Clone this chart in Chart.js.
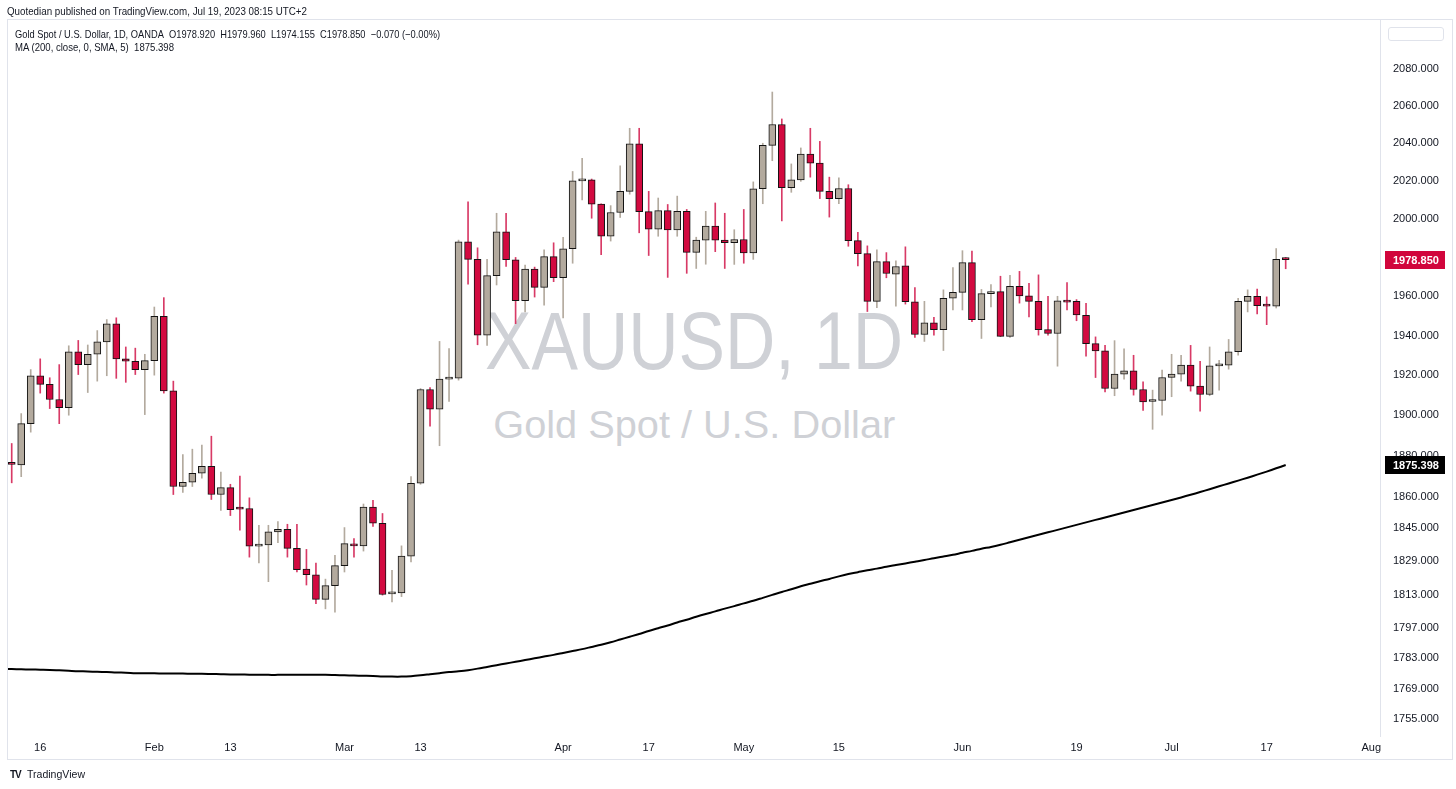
<!DOCTYPE html>
<html><head><meta charset="utf-8">
<script src="https://cdn.jsdelivr.net/npm/chart.js@4.4.1/dist/chart.umd.min.js"></script>
<style>
html,body{margin:0;padding:0;background:#fff;}
#wrap{position:relative;width:1456px;height:789px;overflow:hidden;font-family:"Liberation Sans",Arial,sans-serif;color:#131722;}
canvas{position:absolute;left:0;top:0;}
.t{position:absolute;white-space:nowrap;line-height:13px;transform-origin:0 50%;}
.wm{position:absolute;left:8px;width:1372px;text-align:center;line-height:1;color:#cfd1d6;white-space:nowrap;}
.wm span{display:inline-block;transform-origin:50% 50%;}
.ln{position:absolute;background:#e0e3eb;}
</style></head>
<body><div id="wrap">
<div class="wm" style="top:300px;font-size:82px;"><span id="wm1">XAUUSD, 1D</span></div>
<div class="wm" style="top:405px;font-size:39px;"><span id="wm2">Gold Spot / U.S. Dollar</span></div>
<div class="ln" style="left:7px;top:19px;width:1446px;height:1px;"></div>
<div class="ln" style="left:7px;top:19px;width:1px;height:741px;"></div>
<div class="ln" style="left:7px;top:759px;width:1446px;height:1px;"></div>
<div class="ln" style="left:1452px;top:19px;width:1px;height:741px;"></div>
<div class="ln" style="left:1380px;top:19px;width:1px;height:718px;"></div>
<canvas id="c" width="1456" height="789"></canvas>
<div class="t" id="pub" style="left:7px;top:5px;font-size:11px;">Quotedian published on TradingView.com, Jul 19, 2023 08:15 UTC+2</div>
<div class="t" id="lg1" style="left:15px;top:28px;font-size:11px;">Gold Spot / U.S. Dollar, 1D, OANDA&nbsp;&nbsp;O1978.920&nbsp;&nbsp;H1979.960&nbsp;&nbsp;L1974.155&nbsp;&nbsp;C1978.850&nbsp;&nbsp;−0.070 (−0.00%)</div>
<div class="t" id="lg2" style="left:15px;top:41px;font-size:11px;">MA (200, close, 0, SMA, 5)&nbsp;&nbsp;1875.398</div>
<div style="position:absolute;left:1388px;top:27px;width:56px;height:14px;border:1px solid #e0e3eb;border-radius:3px;box-sizing:border-box;"></div>
<div class="t" style="left:10px;top:768px;font-size:10px;font-weight:bold;letter-spacing:-1px;">TV</div>
<div class="t" id="tvt" style="left:27px;top:768px;font-size:10px;">TradingView</div>
</div>
<script>
// ---- data ----
const dates = [
'2023-01-10','2023-01-11','2023-01-12','2023-01-13','2023-01-16','2023-01-17','2023-01-18','2023-01-19','2023-01-20','2023-01-23','2023-01-24','2023-01-25','2023-01-26','2023-01-27','2023-01-30','2023-01-31',
'2023-02-01','2023-02-02','2023-02-03','2023-02-06','2023-02-07','2023-02-08','2023-02-09','2023-02-10','2023-02-13','2023-02-14','2023-02-15','2023-02-16','2023-02-17','2023-02-20','2023-02-21','2023-02-22','2023-02-23','2023-02-24','2023-02-27','2023-02-28',
'2023-03-01','2023-03-02','2023-03-03','2023-03-06','2023-03-07','2023-03-08','2023-03-09','2023-03-10','2023-03-13','2023-03-14','2023-03-15','2023-03-16','2023-03-17','2023-03-20','2023-03-21','2023-03-22','2023-03-23','2023-03-24','2023-03-27','2023-03-28','2023-03-29','2023-03-30','2023-03-31',
'2023-04-03','2023-04-04','2023-04-05','2023-04-06','2023-04-10','2023-04-11','2023-04-12','2023-04-13','2023-04-14','2023-04-17','2023-04-18','2023-04-19','2023-04-20','2023-04-21','2023-04-24','2023-04-25','2023-04-26','2023-04-27','2023-04-28',
'2023-05-01','2023-05-02','2023-05-03','2023-05-04','2023-05-05','2023-05-08','2023-05-09','2023-05-10','2023-05-11','2023-05-12','2023-05-15','2023-05-16','2023-05-17','2023-05-18','2023-05-19','2023-05-22','2023-05-23','2023-05-24','2023-05-25','2023-05-26','2023-05-29','2023-05-30','2023-05-31',
'2023-06-01','2023-06-02','2023-06-05','2023-06-06','2023-06-07','2023-06-08','2023-06-09','2023-06-12','2023-06-13','2023-06-14','2023-06-15','2023-06-16','2023-06-19','2023-06-20','2023-06-21','2023-06-22','2023-06-23','2023-06-26','2023-06-27','2023-06-28','2023-06-29','2023-06-30',
'2023-07-03','2023-07-04','2023-07-05','2023-07-06','2023-07-07','2023-07-10','2023-07-11','2023-07-12','2023-07-13','2023-07-14','2023-07-17','2023-07-18','2023-07-19'
];
const futureDates = ['2023-07-20','2023-07-21','2023-07-24','2023-07-25','2023-07-26','2023-07-27','2023-07-28','2023-07-31','2023-08-01','2023-08-02'];

const opens = [
1872,1876.2,1875.5,1895.8,1919.7,1915.4,1907.8,1903.8,1931.7,1925.3,1930.5,1936.8,1945.9,1928.2,1927,1922.8,
1927.3,1949.8,1912.1,1864.9,1867,1871.4,1874.8,1861,1864.4,1854.8,1854.2,1836.1,1836.6,1842.9,1844.2,1835,1825.1,1822.4,1810.7,1817.2,
1826.7,1837,1836.2,1854.9,1847.1,1813.3,1813.8,1831.3,1866.5,1912.8,1903,1918,1918.5,1988.1,1979,1940.2,1970.6,1993.3,1978.8,1957.7,1974,1964.6,1980.4,
1969.5,1984.5,2020,2020.6,2007.8,1991,2003.4,2014.5,2039.7,2003.9,1994.7,2004.4,1994.3,2004,1982.6,1989,1996.3,1989,1987.7,
1989.3,1982.3,2015.9,2038.9,2050,2016.5,2020.6,2034.2,2029.4,2014.5,2010.7,2016,1988.7,1982,1957.4,1977.8,1971.3,1975.6,1957.2,1940.5,1946.4,1943,1959,
1962,1977.3,1948,1961.4,1962.4,1939.6,1965.1,1960.2,1957.4,1943,1941,1957.7,1957.4,1950.3,1935.9,1932.2,1913.3,1920.5,1922.2,1912.8,1906.8,1907.3,
1918.8,1920.5,1925,1914.5,1910.3,1924.7,1925,1931.8,1957.4,1960,1955.2,1955,1978.92
];
const highs = [
1881,1886,1900.8,1922.8,1928.2,1918.7,1925.3,1934.8,1937.5,1935.2,1942.5,1948.1,1949,1934.2,1933.6,1930.5,
1954.5,1959.3,1917,1880.5,1883.2,1885.2,1889.6,1871.9,1866,1870,1859.4,1846.1,1846.1,1847.9,1846.6,1846.6,1834.5,1828,1820.3,1831.6,
1845,1839.7,1856.4,1858.2,1851.8,1824.5,1836.2,1869.7,1913.3,1913.8,1937,1933.4,1989,2009,1985,1979,2003,2003,1980,1976,1975,1984,1987.6,
1990.5,2025,2032,2021,2008,2007,2028,2048,2048,2014.5,2011,2007.6,2012,2005,1990.5,2004,2008.4,2003,1994.4,
2005,2019.5,2040,2067.5,2053,2029,2037.5,2048,2041,2022,2021.6,2018,1993,1986,1984,1982.5,1978.2,1985.5,1964.5,1957.4,1949.3,1963.3,1974.8,
1983.5,1983.3,1963.5,1966,1970.3,1970.8,1972.8,1966.6,1971,1960,1960,1967,1958.3,1956.4,1939.3,1935,1937.4,1933.3,1930,1916.6,1912.5,1922.5,
1930.5,1930,1935,1927,1934.2,1927.5,1938,1959,1963.3,1963.7,1959.7,1984.6,1979.96
];
const lows = [
1868,1866.7,1869.7,1891.6,1911,1903.3,1895.8,1900,1920.3,1911.3,1917,1919.7,1918.4,1916.4,1920.3,1900.3,
1920,1911,1861,1862,1864.9,1869,1858.6,1853.3,1850.8,1843.8,1830.8,1828,1819.1,1837.7,1830.8,1823.7,1817.5,1808.7,1806.2,1804.6,
1823.7,1830.8,1833.7,1845.5,1812.7,1809.5,1812,1828.5,1866,1894.6,1884.9,1906.9,1917.5,1966.2,1935.3,1935,1965.8,1975.3,1946,1952,1959.6,1955.4,1967.5,
1949,1977,2010,2000.4,1981.5,1988.5,2000.8,2013,1992.8,1981,1991,1969.7,1991,1971.8,1974.3,1976.5,1983,1974.3,1976.4,
1977,1979,2008,2030.7,1999,2014,2019.8,2022,2010.7,2001,2008,1985.8,1975.6,1952.2,1954.2,1969.5,1955,1956,1939,1937,1940.2,1932.4,1953,
1953,1947,1938.5,1954.5,1939.4,1939,1956.5,1949.4,1940.2,1940.2,1924.5,1953,1947.5,1929.5,1918.8,1911.6,1909.7,1918,1910,1902.4,1893,1900,
1909.2,1917,1912,1902,1909.7,1912.5,1923,1930,1952,1951,1945.5,1954,1974.155
];
const closes = [
1876,1875.7,1895.8,1919.7,1915.4,1907.8,1903.8,1931.7,1925.3,1930.5,1936.8,1945.9,1928.2,1927,1922.8,1927.3,
1949.8,1912.1,1864.9,1867,1871.4,1874.8,1861,1864.4,1853.6,1853.9,1836.1,1836.6,1842.9,1844.2,1835,1824.8,1822.4,1810.7,1817.2,1826.7,
1837.3,1836.2,1854.9,1847.1,1813,1813.8,1831.3,1866.5,1912.8,1903,1918,1918.5,1988.1,1979,1940.2,1970.6,1993.3,1978.8,1957.7,1974,1964.6,1980.4,1969.5,
1984.5,2020,2020.6,2007.8,1991,2003.4,2014.5,2039.7,2003.9,1994.7,2004.4,1994.3,2004,1982.6,1989,1996.3,1989,1987.7,1989.3,
1982.3,2015.9,2038.9,2050,2016.5,2020.6,2034.2,2029.4,2014.5,2010.7,2016,1988.7,1982,1957.4,1977.8,1971.7,1975.3,1957.2,1940.5,1946.4,1943,1959,1962,
1977.3,1948,1961.4,1962.4,1939.6,1965.1,1960.2,1957.4,1943,1941,1957.7,1957,1950.5,1935.9,1932.2,1913.3,1920.5,1922.2,1912.8,1906.6,1907.3,1918.8,
1920.5,1925,1914.5,1910.3,1924.7,1925,1931.8,1957.4,1960,1955.2,1955,1979,1978.85
];
const ma200 = [
1778.1,1778.0,1777.9,1777.8,1777.7,1777.6,1777.4,1777.2,1777.0,1776.9,1776.7,1776.6,1776.4,1776.3,1776.1,1776.0,
1776.0,1775.9,1775.9,1775.9,1775.8,1775.8,1775.7,1775.6,1775.5,1775.5,1775.4,1775.4,1775.3,1775.3,1775.3,1775.3,1775.3,1775.3,1775.3,1775.2,
1775.1,1775.0,1774.9,1774.8,1774.6,1774.5,1774.5,1774.7,1775.1,1775.6,1776.1,1776.6,1777.0,1777.5,1778.2,1779.0,1779.8,1780.6,1781.4,1782.2,1783.0,1783.8,1784.6,
1785.5,1786.4,1787.3,1788.3,1789.3,1790.5,1791.8,1793.1,1794.4,1795.8,1797.1,1798.4,1799.8,1801.1,1802.5,1803.8,1805.0,1806.3,1807.5,
1808.8,1810.0,1811.4,1812.8,1814.2,1815.5,1816.9,1818.1,1819.3,1820.4,1821.6,1822.7,1823.6,1824.5,1825.3,1826.2,1827.0,1827.8,1828.6,1829.4,1830.3,1831.1,1831.9,
1832.9,1833.8,1834.8,1835.7,1836.7,1837.9,1839.1,1840.3,1841.5,1842.7,1843.9,1845.1,1846.3,1847.5,1848.7,1849.9,1851.1,1852.3,1853.5,1854.7,1855.9,1857.1,
1858.3,1859.6,1860.9,1862.2,1863.6,1865.0,1866.4,1867.8,1869.2,1870.7,1872.2,1873.8,1875.398
];
const tickDates = ['2023-01-16','2023-02-01','2023-02-13','2023-03-01','2023-03-13','2023-04-03','2023-04-17','2023-05-01','2023-05-15','2023-06-01','2023-06-19','2023-07-03','2023-07-17','2023-08-01'];
const tickLabels = ['16','Feb','13','Mar','13','Apr','17','May','15','Jun','19','Jul','17','Aug'];
const priceTicks = [1755,1769,1783,1797,1813,1829,1845,1860,1880,1900,1920,1940,1960,1980,2000,2020,2040,2060,2080];

// ---- styling ----
const UP = '#b3aa9e', DOWN = '#d20a40', UPW = '#b3aa9e', DOWNW = '#d83a66';
const allDates = dates.concat(futureDates);
const isUp = opens.map((o,i) => closes[i] >= o);
const tickIdx = tickDates.map(d => allDates.indexOf(d));
const labelAt = {}; tickIdx.forEach((ix,k) => labelAt[ix] = tickLabels[k]);

const tagPlugin = {
  id: 'tags',
  afterDraw(chart) {
    const {ctx, chartArea} = chart; const ys = chart.scales.y;
    const draw = (val, bg) => {
      const py = Math.round(ys.getPixelForValue(val));
      ctx.save();
      ctx.fillStyle = bg; ctx.fillRect(chartArea.right + 5, py - 9, 60, 18);
      ctx.fillStyle = '#fff'; ctx.font = 'bold 11px "Liberation Sans", Arial, sans-serif';
      ctx.textBaseline = 'middle'; ctx.textAlign = 'left';
      ctx.fillText(val.toFixed(3), chartArea.right + 13, py + 0.5);
      ctx.restore();
    };
    draw(closes[closes.length - 1], '#d1053c');
    draw(ma200[ma200.length - 1], '#000000');
  }
};

new Chart(document.getElementById('c'), {
  type: 'bar',
  data: {
    datasets: [
      { type: 'line', label: 'MA', data: ma200.map((v,i) => ({x: i, y: v})), borderColor: '#000', borderWidth: 2, pointRadius: 0, tension: 0.3, order: 0 },
      { label: 'body', data: dates.map((d,i) => ({x: i, y: [opens[i], closes[i]]})),
        backgroundColor: isUp.map(u => u ? UP : DOWN), borderColor: '#131313', borderWidth: 1, borderSkipped: false,
        barThickness: 7, minBarLength: 2, grouped: false, order: 1 },
      { label: 'wick', data: dates.map((d,i) => ({x: i, y: [lows[i], highs[i]]})),
        backgroundColor: isUp.map(u => u ? UPW : DOWNW), borderWidth: 0, barThickness: 1, grouped: false, order: 2 }
    ]
  },
  options: {
    responsive: false, animation: false, devicePixelRatio: 1, events: [],
    layout: { padding: { left: 8, top: 20, right: 0, bottom: 0 } },
    plugins: { legend: { display: false }, tooltip: { enabled: false } },
    scales: {
      x: {
        type: 'linear', position: 'bottom', min: 0.61, max: 144.92, offset: false,
        grid: { display: false, drawTicks: false, offset: false }, border: { display: false },
        afterFit: s => { s.height = 52; },
        afterBuildTicks: s => { s.ticks = tickIdx.map(v => ({ value: v })); },
        ticks: { autoSkip: false, maxRotation: 0, padding: 4, color: '#131722',
          font: { family: '"Liberation Sans", Arial, sans-serif', size: 11 },
          callback: v => labelAt[v] ?? '' }
      },
      y: {
        type: 'logarithmic', position: 'right', min: 1746.7, max: 2106.8, bounds: 'data',
        grid: { display: false, drawTicks: false }, border: { display: false },
        afterFit: s => { s.width = 76; },
        afterBuildTicks: s => { s.ticks = priceTicks.map(v => ({ value: v })); },
        ticks: { autoSkip: false, padding: 13, color: '#131722',
          font: { family: '"Liberation Sans", Arial, sans-serif', size: 11 },
          callback: v => Number(v).toFixed(3) }
      }
    }
  },
  plugins: [tagPlugin]
});

function fit(id, w) {
  const el = document.getElementById(id);
  const r = el.getBoundingClientRect().width;
  if (r > 0) el.style.transform = 'scaleX(' + (w / r) + ')';
}
fit('pub', 300); fit('lg1', 425); fit('lg2', 159); fit('wm1', 418); fit('wm2', 402); fit('tvt', 58);
</script>
</body></html>
